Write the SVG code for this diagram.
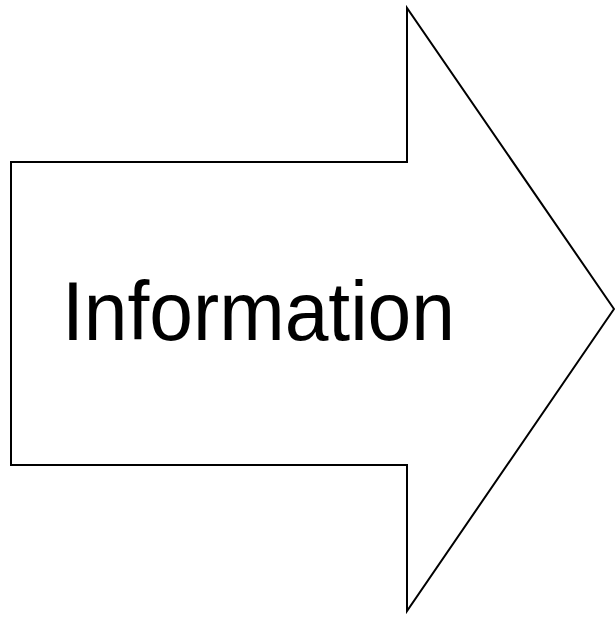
<svg xmlns="http://www.w3.org/2000/svg" width="615" height="619" viewBox="0 0 615 619">
<style>
.shape{fill:#ffffff;stroke:#000000;stroke-width:2;stroke-linejoin:miter}
.label{font-family:"Liberation Sans",Arial,sans-serif;font-size:84px;fill:#000000}
</style>
<rect width="615" height="619" fill="#ffffff"/>
<g id="arrow">
<polygon class="shape" points="11,162 407,162 407,8 614,309 407,611 407,465 11,465"/>
<text class="label" x="62" y="340" textLength="393" lengthAdjust="spacingAndGlyphs">Information</text>
</g>
<g id="connectors"></g>
</svg>
